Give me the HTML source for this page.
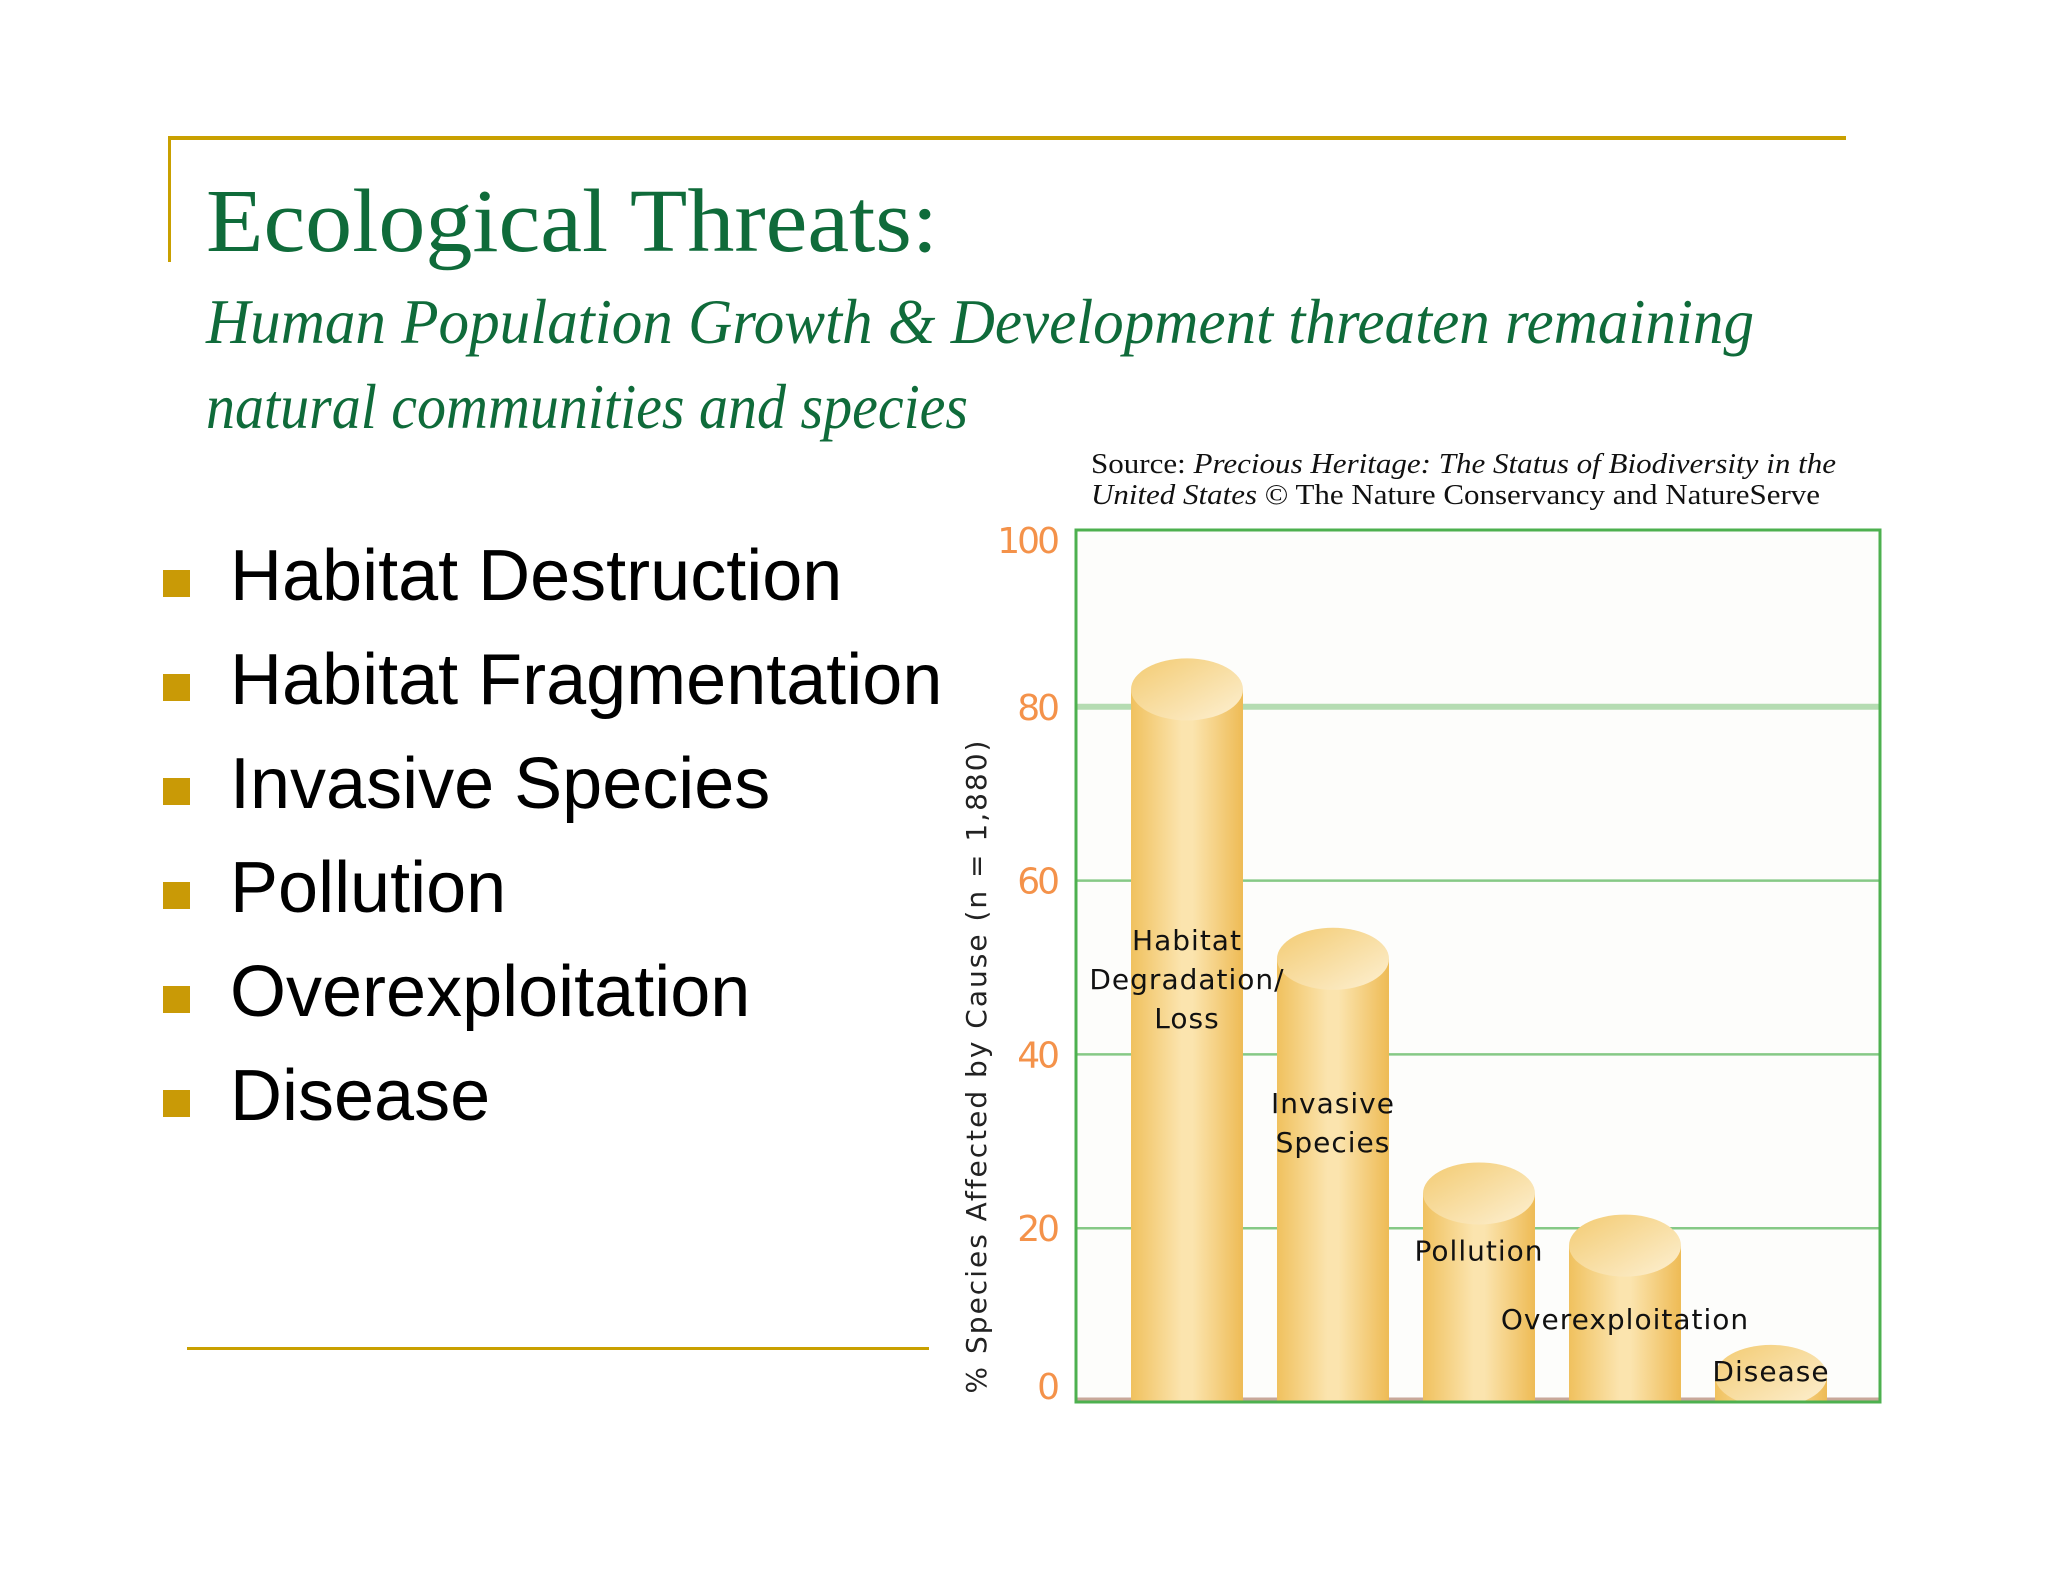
<!DOCTYPE html>
<html><head><meta charset="utf-8"><style>
html,body{margin:0;padding:0;background:#fff;width:2048px;height:1582px;overflow:hidden}
svg{display:block}
</style></head><body>
<svg id="root" width="2048" height="1582" viewBox="0 0 2048 1582" xmlns="http://www.w3.org/2000/svg">
<defs>
<linearGradient id="barGrad" x1="0" x2="1" y1="0" y2="0">
<stop offset="0" stop-color="#f0c15e"/><stop offset="0.45" stop-color="#fbe4ae"/><stop offset="0.55" stop-color="#fbe4ae"/><stop offset="1" stop-color="#eebb55"/>
</linearGradient>
<linearGradient id="capGrad" x1="0" x2="1" y1="0" y2="1">
<stop offset="0" stop-color="#f3cb72"/><stop offset="1" stop-color="#fdf0d2"/>
</linearGradient>
<clipPath id="plotClip"><rect x="1076" y="480" width="804" height="922"/></clipPath>
</defs>
<rect x="0" y="0" width="2048" height="1582" fill="#ffffff"/>
<rect x="168" y="136" width="1678" height="4" fill="#c9a000"/>
<rect x="168" y="136" width="3" height="126" fill="#c9a000"/>
<rect x="187" y="1347" width="742" height="3" fill="#c9a000"/>
<text x="206" y="251" font-family="Liberation Serif, serif" font-size="90" fill="#0f6b3a" textLength="732" lengthAdjust="spacingAndGlyphs">Ecological Threats:</text>
<text x="206" y="343" font-family="Liberation Serif, serif" font-style="italic" font-size="64" fill="#0f6b3a" textLength="1548" lengthAdjust="spacingAndGlyphs">Human Population Growth &amp; Development threaten remaining</text>
<text x="206" y="428" font-family="Liberation Serif, serif" font-style="italic" font-size="64" fill="#0f6b3a" textLength="762" lengthAdjust="spacingAndGlyphs">natural communities and species</text>
<text x="1091" y="473" font-family="Liberation Serif, serif" font-size="29" fill="#111" textLength="745" lengthAdjust="spacingAndGlyphs">Source: <tspan font-style="italic">Precious Heritage: The Status of Biodiversity in the</tspan></text>
<text x="1091" y="504" font-family="Liberation Serif, serif" font-size="29" fill="#111" textLength="729" lengthAdjust="spacingAndGlyphs"><tspan font-style="italic">United States</tspan> © The Nature Conservancy and NatureServe</text>
<g id="bullets"></g>
<g id="chart"></g>
</svg>
<script>
const bulletItems = ["Habitat Destruction","Habitat Fragmentation","Invasive Species","Pollution","Overexploitation","Disease"];
const categories = ["Habitat Degradation/ Loss","Invasive Species","Pollution","Overexploitation","Disease"];
const values = [82, 51, 24, 18, 3];
const yTicks = [0, 20, 40, 60, 80, 100];
const barLabelLines = [["Habitat","Degradation/","Loss"],["Invasive","Species"],["Pollution"],["Overexploitation"],["Disease"]];
const labelValues = [47.5, 31, 16.3, 8.4, 2.4];

const NS = "http://www.w3.org/2000/svg";
function mk(tag, attrs, parent){const e=document.createElementNS(NS,tag);for(const k in attrs)e.setAttribute(k,attrs[k]);parent.appendChild(e);return e;}

const bl = document.getElementById('bullets');
bulletItems.forEach((t,i)=>{
  const y = 600 + i*104;
  const sq = mk('rect',{x:163,y:y-30,width:27,height:27,fill:'#c99a06'},bl);
  
  
  const tx = mk('text',{x:230,y:y,'font-family':'Liberation Sans, sans-serif','font-size':72,fill:'#000'},bl);
  tx.textContent = t;
  
  
});

const ch = document.getElementById('chart');
const L=1076, R=1880, T=530, B=1402;
const yScale = v => B - (v/100)*(B-533);
const step = 146, bw = 112, x0 = 1131;
const xScale = i => x0 + i*step;

const bg = mk('rect',{x:L,y:T,width:R-L,height:B-T,fill:'#fdfdfb'},ch);



yTicks.forEach(v=>{
  const y = yScale(v);
  if(v>0 && v<100){
    const g = mk('line',{x1:L,x2:R,y1:y,y2:y,stroke: v===80?'#b5dcb2':'#86c986','stroke-width': v===80?6:2.5},ch);
    
    
  }
  const off = v===0 ? -3 : (v===100 ? 20 : 13);
  const t = mk('text',{x:1057,y:y+off,'text-anchor':'end','font-family':'DejaVu Sans, sans-serif','font-size':36,fill:'#f4924a','letter-spacing':'-3'},ch);
  t.textContent = v;
  
  
});

const base = mk('line',{x1:L,x2:R,y1:B-3,y2:B-3,stroke:'#c8a89a','stroke-width':3},ch);



const barsG = mk('g',{'clip-path':'url(#plotClip)'},ch);


values.forEach((v,i)=>{
  const x = xScale(i), yc = yScale(v), ry = 31;
  const g = mk('g',{},barsG);
  
  
  mk('rect',{x:x,y:yc,width:bw,height:B-yc,fill:'url(#barGrad)'},g);
  mk('ellipse',{cx:x+bw/2,cy:yc,rx:bw/2,ry:ry,fill:'url(#capGrad)'},g);
});

barLabelLines.forEach((lines,i)=>{
  const cx = xScale(i)+bw/2;
  const yTop = yScale(labelValues[i]) - (lines.length-1)*39/2;
  lines.forEach((ln,j)=>{
    const t = mk('text',{x:cx,y:yTop+j*39,'text-anchor':'middle','font-family':'DejaVu Sans, sans-serif','font-size':28,fill:'#111','letter-spacing':'1'},ch);
    t.textContent = ln;
    
    
  });
});

const frame = mk('rect',{x:L,y:T,width:R-L,height:B-T,fill:'none',stroke:'#4db04f','stroke-width':3},ch);



const yt = mk('text',{x:0,y:0,transform:'translate(986,1066) rotate(-90)','text-anchor':'middle','font-family':'DejaVu Sans, sans-serif','font-size':28,fill:'#222','letter-spacing':'2'},ch);
yt.textContent = '% Species Affected by Cause (n = 1,880)';


</script>
</body></html>
